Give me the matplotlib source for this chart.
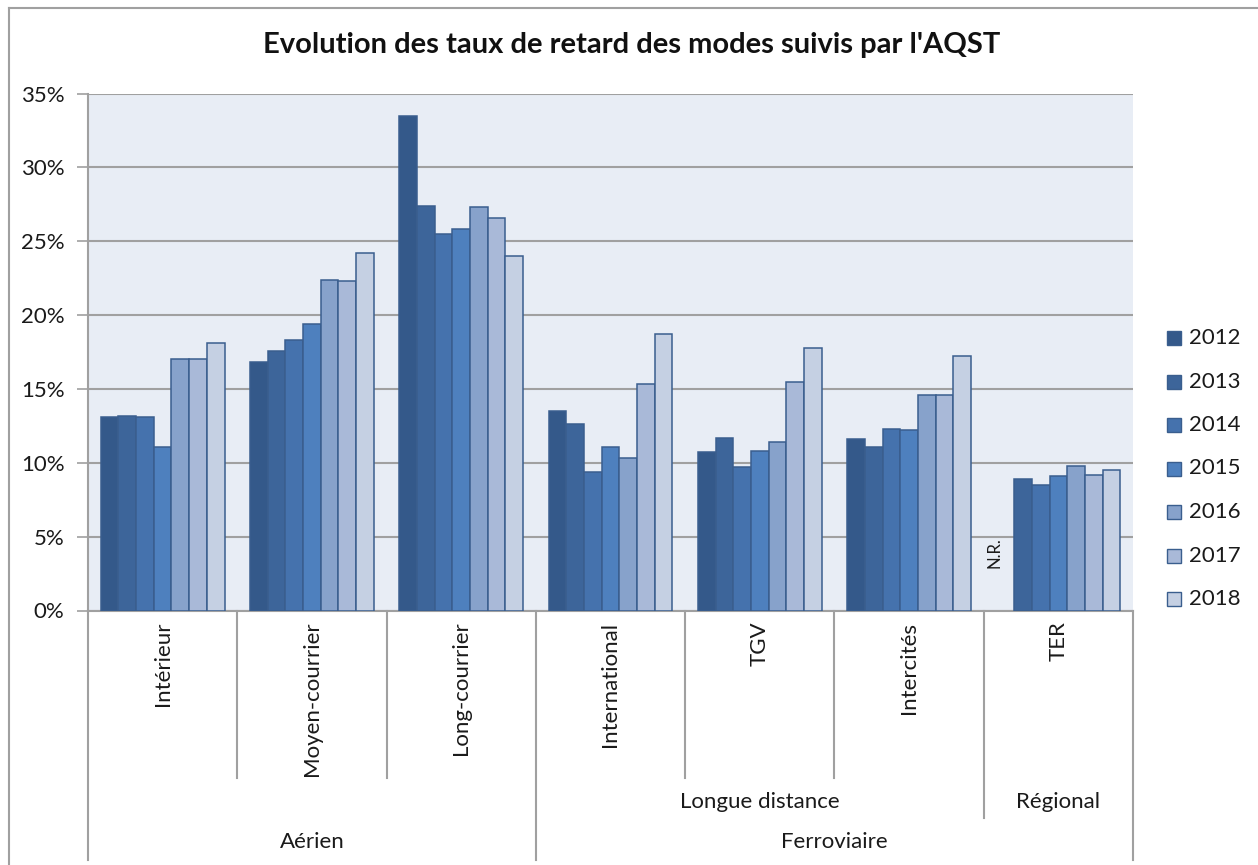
import numpy as np
import matplotlib
matplotlib.use("Agg")
import matplotlib.pyplot as plt
from matplotlib.patches import Rectangle
from matplotlib.lines import Line2D
import matplotlib.transforms as mtransforms

plt.rcParams['font.family'] = ['Lato', 'DejaVu Sans']

# Delay rates (%) per transport mode and year
categories = ["Intérieur", "Moyen-courrier", "Long-courrier",
              "International", "TGV", "Intercités", "TER"]
years = ["2012", "2013", "2014", "2015", "2016", "2017", "2018"]
rate_2012 = [13.1, 16.8, 33.5, 13.5, 10.7, 11.6, np.nan]
rate_2013 = [13.2, 17.6, 27.4, 12.6, 11.7, 11.1, 8.9]
rate_2014 = [13.1, 18.3, 25.5, 9.4, 9.7, 12.3, 8.5]
rate_2015 = [11.1, 19.4, 25.8, 11.1, 10.8, 12.2, 9.1]
rate_2016 = [17.0, 22.4, 27.3, 10.3, 11.4, 14.6, 9.8]
rate_2017 = [17.0, 22.3, 26.6, 15.3, 15.5, 14.6, 9.2]
rate_2018 = [18.1, 24.2, 24.0, 18.7, 17.8, 17.2, 9.5]
series = [rate_2012, rate_2013, rate_2014, rate_2015,
          rate_2016, rate_2017, rate_2018]

# Grouping levels below the category axis
subgroups = [("", 0, 2), ("Longue distance", 3, 5), ("Régional", 6, 6)]
groups = [("Aérien", 0, 2), ("Ferroviaire", 3, 6)]
missing_label = "N.R."

colors = ["#34598A", "#3D659A", "#4572AD", "#4E80BE",
          "#87A2CB", "#A9B9D8", "#C5D0E3"]
edge = "#3A5E8E"
txt = "#1A1A1A"
fs = 16

fig = plt.figure(figsize=(12.58, 8.65), dpi=100)
W, H = 1258, 865
ax = fig.add_axes([88 / W, 1 - 610.5 / H, (1133 - 88) / W, (610.5 - 93.5) / H])
ax.set_facecolor("#E8EDF5")

n = len(years)
w = 0.83 / n
x = np.arange(len(categories))
for j, vals in enumerate(series):
    ax.bar(x + (j - (n - 1) / 2) * w, vals, width=w, color=colors[j],
           edgecolor=edge, linewidth=1.1, zorder=3)

# Missing TER value marker
ter = categories.index("TER")
ax.text(ter + (0 - (n - 1) / 2) * w - 0.6 * w, 3.9, missing_label,
        rotation=90, ha="center", va="center", fontsize=12, color=txt,
        zorder=4)

ax.set_ylim(0, 35)
ax.set_xlim(-0.5, len(categories) - 0.5)
yt = np.arange(0, 36, 5)
ax.set_yticks(yt)
ax.set_yticklabels([f"{v}%" for v in yt], fontsize=fs, color=txt)
ax.yaxis.grid(True, color="#A0A0A0", linewidth=1.5, zorder=1)
ax.set_axisbelow(True)
ax.tick_params(axis="y", length=8, width=1.2, color="#A0A0A0", pad=9)

for s in ["top", "right"]:
    ax.spines[s].set_visible(False)
ax.spines["left"].set_color("#A0A0A0")
ax.spines["left"].set_linewidth(1.5)
ax.spines["bottom"].set_color("#A0A0A0")
ax.spines["bottom"].set_linewidth(1.5)

ax.set_xticks(x)
ax.set_xticklabels(categories, rotation=90, va="top", ha="center",
                   fontsize=fs, color=txt)
ax.tick_params(axis="x", length=0, pad=8)

trans = mtransforms.blended_transform_factory(ax.transData, ax.transAxes)
ph = 610.5 - 93.5


def frac(py):
    return (610.5 - py) / ph


lvl1 = frac(778)
lvl2 = frac(818)
lvl3 = frac(860)

# Separators between categories, extended by grouping level
bounds = np.arange(len(categories) + 1) - 0.5
group_edges = {g[1] - 0.5 for g in groups} | {groups[-1][2] + 0.5}
sub_edges = {s[1] - 0.5 for s in subgroups if s[0]}
for b in bounds:
    if b in group_edges:
        bottom = lvl3
    elif b in sub_edges:
        bottom = lvl2
    else:
        bottom = lvl1
    ax.add_line(Line2D([b, b], [0, bottom], transform=trans, color="#A0A0A0",
                       linewidth=1.5, clip_on=False))

for name, a, b in subgroups:
    if name:
        ax.text((a + b) / 2, frac(802), name, transform=trans, ha="center",
                va="center", fontsize=fs, color=txt)
for name, a, b in groups:
    ax.text((a + b) / 2, frac(842), name, transform=trans, ha="center",
            va="center", fontsize=fs, color=txt)

# Legend
for j, yr in enumerate(years):
    cy = 338 + j * 43.5
    fig.patches.append(Rectangle((1167 / W, 1 - (cy + 7) / H), 14 / W, 14 / H,
                                 transform=fig.transFigure, facecolor=colors[j],
                                 edgecolor=edge, linewidth=1.0))
    fig.text(1189 / W, 1 - cy / H, yr, ha="left", va="center", fontsize=fs,
             color=txt)

fig.text(632 / W, 1 - 45 / H, "Evolution des taux de retard des modes suivis par l'AQST",
         ha="center", va="center", fontsize=21, fontweight="bold",
         color="#111111")

# Chart frame
fig.add_artist(Line2D([9 / W, 9 / W], [0, 1 - 8 / H], transform=fig.transFigure,
                      color="#A0A0A0", linewidth=1.5))
fig.add_artist(Line2D([9 / W, 1], [1 - 8 / H, 1 - 8 / H], transform=fig.transFigure,
                      color="#A0A0A0", linewidth=1.5))

fig.savefig("out.png", dpi=100, facecolor="white")
